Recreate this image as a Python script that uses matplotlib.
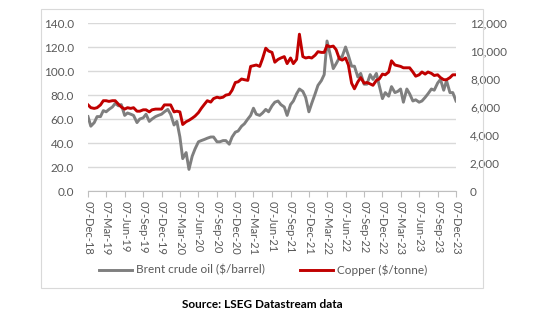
import matplotlib
matplotlib.use("Agg")
import matplotlib.pyplot as plt
import matplotlib.dates as mdates
from matplotlib.patches import Rectangle
import pandas as pd

plt.rcParams["font.family"] = ["Lato", "DejaVu Sans"]

# semi-monthly readings (7th and 21st), Dec 2018 .. Dec 2023
brent = [
    62, 54,
    57, 62, 62, 67, 66, 68, 70, 73, 71, 72, 63, 65, 64, 63, 57, 60, 61, 64, 58, 60, 62, 63, 64, 66,
    68, 64, 55, 58, 45, 27, 32, 18, 29, 35, 41, 42, 43, 44, 45, 45, 41, 41, 42, 42, 39, 45, 49, 50,
    54, 56, 60, 63, 69, 64, 63, 65, 68, 66, 71, 74, 75, 72, 70, 63, 72, 75, 81, 85, 83, 78, 66, 73,
    81, 88, 92, 97, 125, 115, 102, 106, 111, 112, 120, 113, 104, 104, 95, 98, 89, 89, 97, 93, 98, 88, 77, 82,
    79, 87, 82, 83, 85, 74, 85, 81, 75, 76, 74, 75, 78, 81, 85, 84, 90, 93, 84, 92, 82, 82,
    75,
]
copper = [
    6150, 5950,
    5900, 5950, 6150, 6450, 6450, 6400, 6450, 6450, 6200, 6000, 5850, 5950,
    5900, 5950, 5700, 5700, 5800, 5800, 5650, 5800, 5850, 5850, 5850, 6150,
    6150, 6150, 5650, 5700, 5650, 4750, 4950, 5050, 5200, 5350, 5600, 5900,
    6200, 6450, 6350, 6600, 6700, 6650, 6700, 6850, 6900, 7200, 7750, 7800,
    8000, 7950, 7900, 8900, 8950, 9000, 8900, 9450, 10200, 10000, 9900, 9200,
    9400, 9500, 9600, 9100, 9500, 9100, 9400, 11200, 9600, 9500, 9550, 9500,
    9700, 9950, 9900, 9900, 10400, 10300, 10350, 10100, 9450, 9350, 9500, 9000,
    7700, 7300, 7800, 8100, 7700, 7750, 7650, 7550, 7900, 8000, 8350, 8300,
    8500, 9300, 9000, 8950, 8900, 8800, 8800, 8800, 8500, 8200, 8300, 8500,
    8350, 8500, 8400, 8250, 8300, 8100, 7950, 7950, 8100, 8300,
    8300,
]

dates = []
for m in pd.date_range("2018-12-01", "2023-11-01", freq="MS"):
    dates.append(m + pd.Timedelta(days=6))
    dates.append(m + pd.Timedelta(days=20))
dates.append(pd.Timestamp("2023-12-07"))

tick_dates = pd.date_range("2018-12-07", periods=21, freq=pd.DateOffset(months=3))

grey = "#7f7f7f"
red = "#c00000"
txt = "#595959"

fig = plt.figure(figsize=(5.5, 3.3), dpi=100)
fig.patches.append(Rectangle((41 / 550, 42 / 330), 442 / 550, 279 / 330,
                             transform=fig.transFigure, fill=False,
                             edgecolor="#d9d9d9", linewidth=0.8))

ax = fig.add_axes([88 / 550, 139 / 330, 368 / 550, 168 / 330])
ax2 = ax.twinx()

l1, = ax.plot(dates, brent, color=grey, lw=2.1, solid_joinstyle="round")
l2, = ax2.plot(dates, copper, color=red, lw=2.1, solid_joinstyle="round")

ax.set_ylim(0, 140)
ax.set_yticks(range(0, 141, 20))
ax.set_yticklabels([f"{v:.1f}" for v in range(0, 141, 20)])
ax2.set_ylim(0, 12000)
ax2.set_yticks(range(0, 12001, 2000))
ax2.set_yticklabels([f"{v:,}" for v in range(0, 12001, 2000)])
ax.set_xlim(tick_dates[0], tick_dates[-1])
ax.set_xticks(tick_dates)
ax.xaxis.set_major_formatter(mdates.DateFormatter("%d-%b-%y"))

ax.grid(axis="y", color="#d9d9d9", lw=1)
ax.set_axisbelow(True)
for a in (ax, ax2):
    for s in a.spines.values():
        s.set_visible(False)
ax.spines["bottom"].set_visible(True)
ax.spines["bottom"].set_color("#bfbfbf")

ax.tick_params(axis="y", length=0, labelsize=8.5, labelcolor=txt, pad=10)
ax2.tick_params(axis="y", length=0, labelsize=8.5, labelcolor=txt, pad=10)
ax.tick_params(axis="x", length=4, color="#bfbfbf", labelsize=8,
               labelcolor=txt, labelrotation=-90, pad=3)
for lab in ax.get_xticklabels():
    lab.set_verticalalignment("top")
    lab.set_horizontalalignment("center")

fig.legend([l1, l2], ["Brent crude oil ($/barrel)", "Copper ($/tonne)"],
           loc="center", bbox_to_anchor=(263 / 550, 60 / 330), ncol=2,
           frameon=False, fontsize=8.5, handlelength=2.8, handletextpad=0.3,
           columnspacing=3.0, labelcolor=txt)

fig.text(262 / 550, 25 / 330, "Source: LSEG Datastream data", ha="center",
         va="center", fontsize=8.5, fontweight="bold")

fig.savefig("out.png", dpi=100)
